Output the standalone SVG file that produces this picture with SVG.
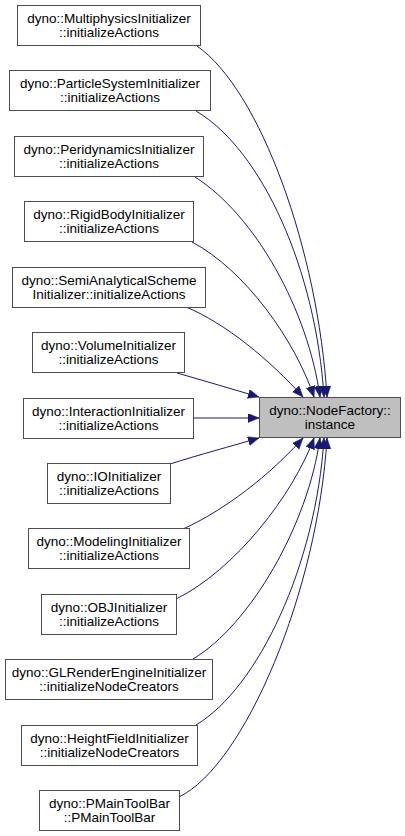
<svg xmlns="http://www.w3.org/2000/svg" width="405" height="836" viewBox="0 0 405 836">
<defs>
<style>
.box{fill:#ffffff;stroke:#4d4d4d;stroke-width:1}
.target{fill:#bfbfbf;stroke:#4d4d4d;stroke-width:1}
text{font-family:"Liberation Sans",Arial,sans-serif;font-size:13.5px;fill:#000000;text-anchor:middle}
.edge{fill:none;stroke:#191970;stroke-width:1;marker-end:url(#arr)}
</style>
<marker id="arr" markerUnits="userSpaceOnUse" markerWidth="12" markerHeight="10" viewBox="0 0 12 10" refX="11" refY="4.5" orient="auto">
<path d="M0,0 L11,4.5 L0,9 z" fill="#191970" stroke="#191970" stroke-width="0.5"/>
</marker>
</defs>
<rect width="405" height="836" fill="#ffffff"/>
<g id="edges">
<path class="edge" d="M197,46 C260,90 318,250 327,397"/>
<path class="edge" d="M196,111 C262,150 316,270 324,397"/>
<path class="edge" d="M195,177 C255,215 308,310 320,397"/>
<path class="edge" d="M192,242 C245,270 295,340 314,397"/>
<path class="edge" d="M186,307 C225,323 270,360 303,397"/>
<path class="edge" d="M177,373 C205,381 232,389 259,397"/>
<path class="edge" d="M193,418 L259,418"/>
<path class="edge" d="M170,464 C198,455 232,446 259,438"/>
<path class="edge" d="M183,529 C225,510 270,475 303,438"/>
<path class="edge" d="M176,599 C235,570 293,495 314,438"/>
<path class="edge" d="M193,659 C250,625 308,525 320,438"/>
<path class="edge" d="M196,725 C258,688 316,565 324,438"/>
<path class="edge" d="M179,797 C245,765 318,590 327,438"/>
</g>
<g id="target">
<rect class="target" x="259.5" y="397.5" width="141" height="40"/>
<text x="330" y="414.5">dyno::NodeFactory::</text>
<text x="330" y="428.5">instance</text>
</g>
<g id="n1">
<rect class="box" x="17.5" y="5.5" width="183" height="40"/>
<text x="109" y="22.5">dyno::MultiphysicsInitializer</text>
<text x="109" y="36.5">::initializeActions</text>
</g>
<g id="n2">
<rect class="box" x="9.5" y="70.5" width="201" height="40"/>
<text x="110" y="87.5">dyno::ParticleSystemInitializer</text>
<text x="110" y="101.5">::initializeActions</text>
</g>
<g id="n3">
<rect class="box" x="14.5" y="136.5" width="189" height="40"/>
<text x="109" y="153.5">dyno::PeridynamicsInitializer</text>
<text x="109" y="167.5">::initializeActions</text>
</g>
<g id="n4">
<rect class="box" x="24.5" y="201.5" width="169" height="40"/>
<text x="109" y="218.5">dyno::RigidBodyInitializer</text>
<text x="109" y="232.5">::initializeActions</text>
</g>
<g id="n5">
<rect class="box" x="12.5" y="267.5" width="193" height="40"/>
<text x="109" y="284.5">dyno::SemiAnalyticalScheme</text>
<text x="109" y="298.5">Initializer::initializeActions</text>
</g>
<g id="n6">
<rect class="box" x="32.5" y="332.5" width="152" height="40"/>
<text x="108.5" y="349.5">dyno::VolumeInitializer</text>
<text x="108.5" y="363.5">::initializeActions</text>
</g>
<g id="n7">
<rect class="box" x="23.5" y="398.5" width="170" height="40"/>
<text x="108.5" y="415.5">dyno::InteractionInitializer</text>
<text x="108.5" y="429.5">::initializeActions</text>
</g>
<g id="n8">
<rect class="box" x="47.5" y="463.5" width="123" height="40"/>
<text x="109" y="480.5">dyno::IOInitializer</text>
<text x="109" y="494.5">::initializeActions</text>
</g>
<g id="n9">
<rect class="box" x="28.5" y="528.5" width="161" height="40"/>
<text x="109" y="545.5">dyno::ModelingInitializer</text>
<text x="109" y="559.5">::initializeActions</text>
</g>
<g id="n10">
<rect class="box" x="41.5" y="594.5" width="135" height="40"/>
<text x="109" y="611.5">dyno::OBJInitializer</text>
<text x="109" y="625.5">::initializeActions</text>
</g>
<g id="n11">
<rect class="box" x="5.5" y="659.5" width="207" height="40"/>
<text x="109" y="676.5">dyno::GLRenderEngineInitializer</text>
<text x="109" y="690.5">::initializeNodeCreators</text>
</g>
<g id="n12">
<rect class="box" x="21.5" y="725.5" width="176" height="40"/>
<text x="109.5" y="742.5">dyno::HeightFieldInitializer</text>
<text x="109.5" y="756.5">::initializeNodeCreators</text>
</g>
<g id="n13">
<rect class="box" x="39.5" y="790.5" width="140" height="40"/>
<text x="109.5" y="807.5">dyno::PMainToolBar</text>
<text x="109.5" y="821.5">::PMainToolBar</text>
</g>
</svg>
